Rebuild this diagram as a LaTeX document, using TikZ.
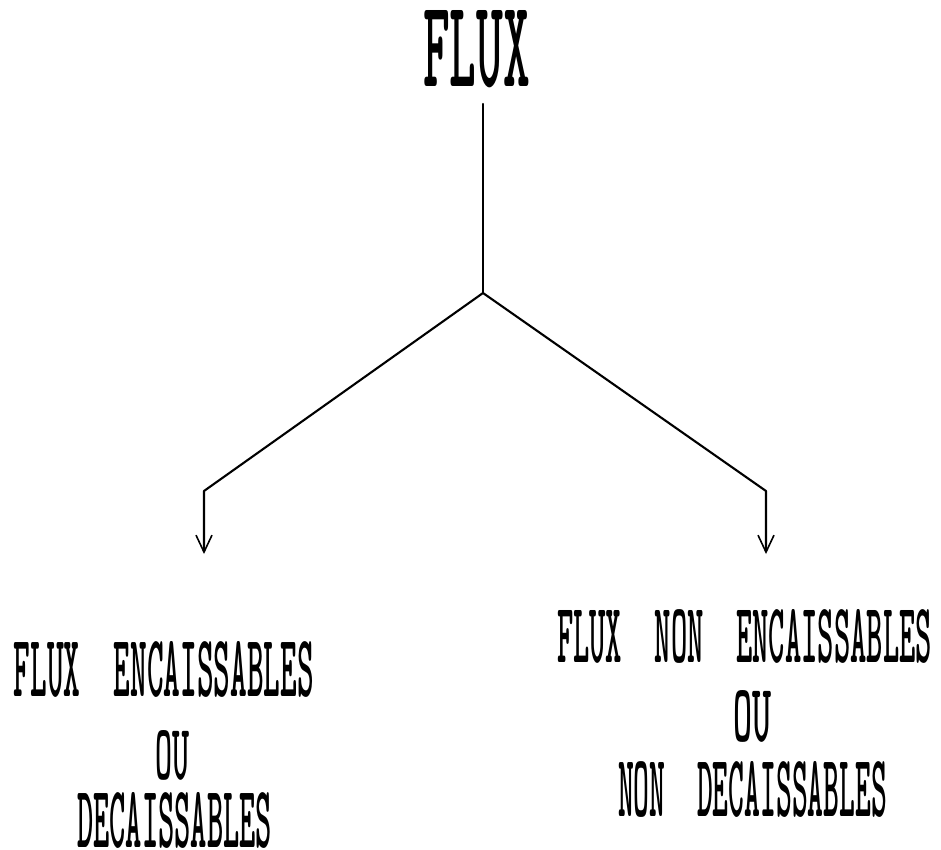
\documentclass[tikz,border=0pt]{standalone}
\usepackage{graphicx}
\usetikzlibrary{arrows.meta}
\tikzset{
  lbl/.style={inner sep=0pt, outer sep=0pt, anchor=center, font=\ttfamily\bfseries},
  conn/.style={line width=2.1pt, line cap=round, line join=round},
  arr/.style={conn, -{Straight Barb[length=17pt,width=16pt,line width=1.6pt]}}
}
\newcommand{\fitbox}[3]{\resizebox{#1pt}{#2pt}{#3}}
\begin{document}
\begin{tikzpicture}[x=1pt,y=-1pt]
  \useasboundingbox (0,0) rectangle (941,850);
  % texts
  \node[lbl] (title) at (476.5,49) {\fitbox{107}{76}{FLUX}};
  \node[lbl] (l1) at (164,669.5) {\fitbox{300}{55}{FLUX~~ENCAISSABLES}};
  \node[lbl] (l2) at (172,755) {\fitbox{34}{49}{OU}};
  \node[lbl] (l3) at (174.5,820.5) {\fitbox{195}{55}{DECAISSABLES}};
  \node[lbl] (r1) at (744.5,636.5) {\fitbox{375}{53}{FLUX~~NON~~ENCAISSABLES}};
  \node[lbl] (r2) at (752,716.5) {\fitbox{38}{51}{OU}};
  \node[lbl] (r3) at (752.5,789.5) {\fitbox{269}{55}{NON~~DECAISSABLES}};
  % connector points
  \coordinate (top) at (483,104);
  \coordinate (j) at (483,293);
  \coordinate (cl) at (204,491);
  \coordinate (cr) at (766,491);
  \coordinate (tl) at (204,554);
  \coordinate (tr) at (766,554);
  % connectors
  \draw[conn] (top) -- (j);
  \draw[arr] (j) -- (cl) -- (tl);
  \draw[arr] (j) -- (cr) -- (tr);
\end{tikzpicture}
\end{document}
